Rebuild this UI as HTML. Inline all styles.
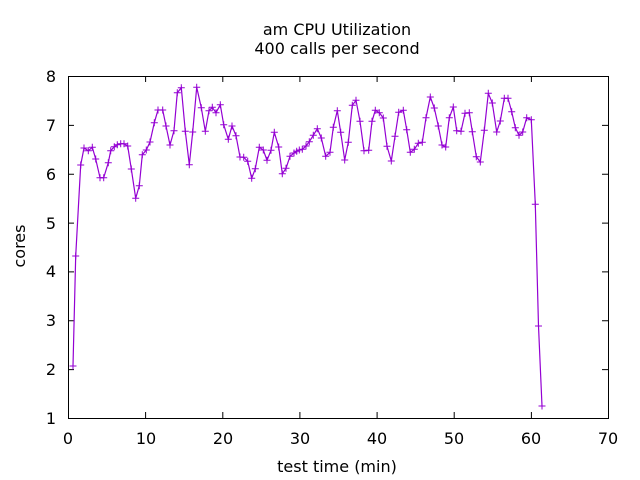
<!DOCTYPE html>
<html><head><meta charset="utf-8"><style>
html,body{margin:0;padding:0;background:#fff}
svg{display:block;font-family:"DejaVu Sans","Liberation Sans",sans-serif}
</style></head><body>
<svg width="640" height="480" viewBox="0 0 640 480" xmlns="http://www.w3.org/2000/svg">
<defs>
<marker id="p" markerUnits="userSpaceOnUse" markerWidth="10" markerHeight="10" refX="5" refY="5" overflow="visible">
<path d="M1.5 5h7M5 1.5v7" stroke="#9400d3" stroke-width="1" fill="none"/>
</marker>
</defs>
<rect width="640" height="480" fill="#fff"/>
<g font-size="16" fill="#000" text-anchor="middle">
<text x="337" y="35">am CPU Utilization</text>
<text x="337" y="54">400 calls per second</text>
<text x="337" y="472">test time (min)</text>
<text transform="translate(25,246) rotate(-90)">cores</text>
</g>
<g stroke="#000" stroke-width="1" fill="none">
<rect x="68.5" y="76.5" width="540" height="342"/>
<path d="M68.5 418v-6M68.5 76v6M145.6 418v-6M145.6 76v6M222.8 418v-6M222.8 76v6M299.9 418v-6M299.9 76v6M377.1 418v-6M377.1 76v6M454.2 418v-6M454.2 76v6M531.4 418v-6M531.4 76v6M608.5 418v-6M608.5 76v6
M68 418.5h6M608 418.5h-6M68 369.6h6M608 369.6h-6M68 320.8h6M608 320.8h-6M68 271.9h6M608 271.9h-6M68 223.1h6M608 223.1h-6M68 174.2h6M608 174.2h-6M68 125.4h6M608 125.4h-6M68 76.5h6M608 76.5h-6"/>
</g>
<g font-size="16" text-anchor="middle">
<text x="68" y="444">0</text><text x="146" y="444">10</text><text x="223" y="444">20</text><text x="300" y="444">30</text><text x="377" y="444">40</text><text x="454" y="444">50</text><text x="531" y="444">60</text><text x="608" y="444">70</text>
</g>
<g font-size="16" text-anchor="end">
<text x="56" y="424">1</text><text x="56" y="375">2</text><text x="56" y="326">3</text><text x="56" y="277">4</text><text x="56" y="229">5</text><text x="56" y="180">6</text><text x="56" y="131">7</text><text x="56" y="82">8</text>
</g>
<polyline fill="none" stroke="#9400d3" stroke-width="1.2" marker-start="url(#p)" marker-mid="url(#p)" marker-end="url(#p)" points="
73,366 75.7,256 80.7,165 84,148 88.3,150.7 92.3,147.3 95.7,159 100,177.7 103.7,177.7 108.3,162.7 110.7,150.7 114.3,146.7 117.3,144.7 120.7,143.7 124,143.7 127.7,146 131.3,169 135.7,198.3 139.3,185.7 142.3,154.7 146.3,150 150,142 154.3,122.7 158,110 162.7,110 166,126 170,145 174,130.7 177.3,92.7 181.3,87.7 185.3,131.3 189.3,164.7 192.7,132 196.7,87.3 201.3,107.7 205.3,131.3 209,110.7 212.3,107.3 216,112.7 220.3,104.7 223.7,124.7 228.3,139.3 232,126 236,135.7 240,157 243.7,157.3 247.7,161.3 251.7,178.3 255.3,168.7 259.3,147.3 263.3,150 267,160.3 271,150.3 274.3,132.3 278.7,147 282.3,173.7 286,168.3 290,156.3 294,153 296.7,151.3 299.3,150 302.3,149.3 306,146 309.3,141.7 313.3,135.3 317.3,128.7 321.3,138 325.7,156.3 330,152.3 333.3,127.3 337.3,110.7 340.7,132.3 344.7,160 348.3,142.3 352.3,105.3 356,100.3 360,121.3 364,150.7 368.7,150.3 372,121.3 375.3,110.3 379.3,112.7 383.3,118 387,146.3 391.3,161 395,136.3 398.7,112.3 403.3,110.3 406.7,129.7 410.3,152.3 414.3,149.3 418.3,143.3 422.3,142.3 426,117.7 430.3,97 434.3,108 438.3,126 442,145 445.7,147 449.3,117.7 453.3,107 456.7,130.7 461,131.3 465,113.3 469.3,112.7 472.3,131.7 476.3,156.7 480.3,162 484.3,130.3 488.3,93.3 492.3,103 496.7,132 500.3,121 504.3,98.3 508,98.3 511.7,111.7 515.3,127.7 519,135.3 522.7,132 526.7,117.7 531.3,119.7 535.3,204.3 538.5,326 542,406"/>
</svg>
</body></html>
